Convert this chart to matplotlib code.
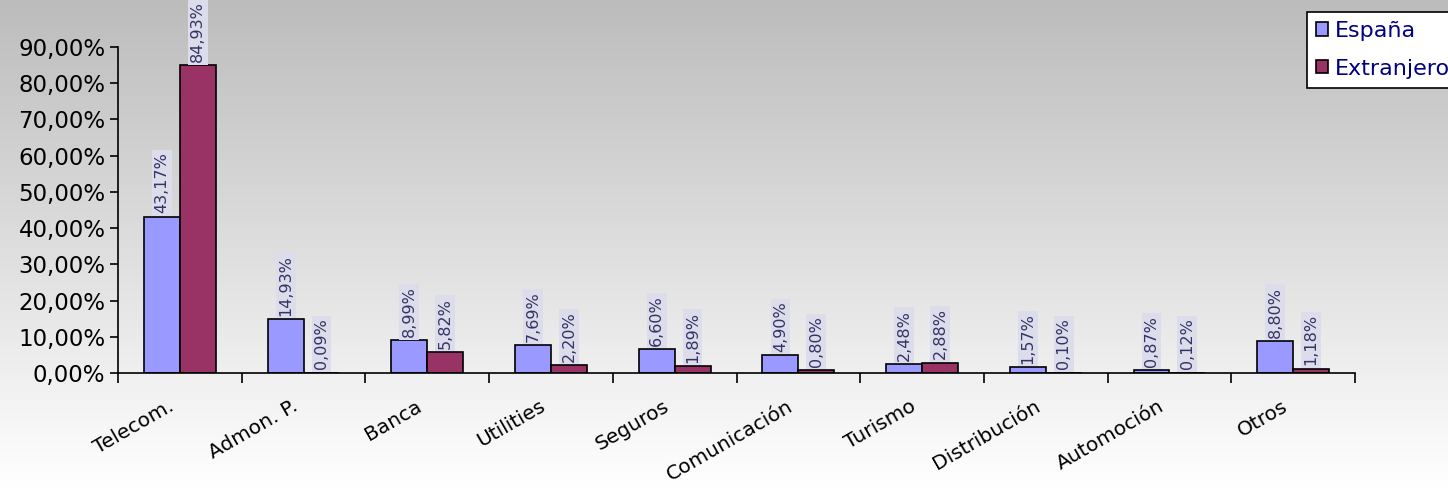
import numpy as np
import matplotlib
matplotlib.use('Agg')
import matplotlib.pyplot as plt
import matplotlib.transforms as mtransforms
from matplotlib.ticker import FixedLocator, FuncFormatter
from matplotlib.colors import LinearSegmentedColormap

categories = ['Telecom.', 'Admon. P.', 'Banca', 'Utilities', 'Seguros',
              'Comunicación', 'Turismo', 'Distribución', 'Automoción', 'Otros']
espana = [43.17, 14.93, 8.99, 7.69, 6.60, 4.90, 2.48, 1.57, 0.87, 8.80]
extranjero = [84.93, 0.09, 5.82, 2.20, 1.89, 0.80, 2.88, 0.10, 0.12, 1.18]
series_names = ['España', 'Extranjero']
yticks = [0, 10, 20, 30, 40, 50, 60, 70, 80, 90]

C_ES = '#9999FF'
C_EX = '#993366'
NAVY = '#000080'

fig = plt.figure(figsize=(14.48, 4.88), dpi=100)

# vertical gradient background
bg = fig.add_axes([0, 0, 1, 1], zorder=0)
grad = np.linspace(0, 1, 256).reshape(-1, 1)
cmap = LinearSegmentedColormap.from_list('g', ['#bcbcbc', '#ffffff'])
bg.imshow(grad, aspect='auto', cmap=cmap, extent=[0, 1, 0, 1], origin='upper')
bg.axis('off')

ax = fig.add_axes([118/1448, 1 - 373/488, (1355 - 118)/1448, (373 - 47)/488], zorder=1)
ax.patch.set_alpha(0)

x = np.arange(len(categories))
w = 0.29
b1 = ax.bar(x - w/2, espana, w, color=C_ES, edgecolor='black', linewidth=1.2,
            label=series_names[0])
b2 = ax.bar(x + w/2, extranjero, w, color=C_EX, edgecolor='black', linewidth=1.2,
            label=series_names[1])

def fmt(v):
    return f'{v:.2f}'.replace('.', ',') + '%'

for bars, vals in [(b1, espana), (b2, extranjero)]:
    for r, v in zip(bars, vals):
        ax.text(r.get_x() + r.get_width()/2, v + 0.9, fmt(v),
                rotation=90, ha='center', va='bottom', fontsize=11.5,
                color='#333366',
                bbox=dict(boxstyle='square,pad=0.15', fc='#dcdcea', ec='none'),
                zorder=5, clip_on=False)

ax.set_xlim(-0.5, len(categories) - 0.5)
ax.set_ylim(0, 90)
ax.set_yticks(yticks)
ax.yaxis.set_major_formatter(FuncFormatter(lambda v, p: f'{v:.2f}'.replace('.', ',') + '%'))
ax.tick_params(axis='y', direction='out', length=6, width=1.2, labelsize=16.5,
               colors='black', pad=3)

ax.set_xticks(x)
ax.set_xticklabels(categories, rotation=30, ha='right', rotation_mode='anchor',
                   fontsize=14.5)
ax.tick_params(axis='x', which='major', length=0, pad=17)
shift = mtransforms.ScaledTranslation(-12/100, 0, fig.dpi_scale_trans)
for lbl in ax.get_xticklabels():
    lbl.set_transform(lbl.get_transform() + shift)
ax.xaxis.set_minor_locator(FixedLocator(np.arange(-0.5, len(categories), 1.0)))
ax.tick_params(axis='x', which='minor', direction='out', length=7, width=1.2)

for s in ['top', 'right']:
    ax.spines[s].set_visible(False)
for s in ['left', 'bottom']:
    ax.spines[s].set_linewidth(1.2)

leg = fig.legend(handles=[b1, b2], labels=series_names,
                 loc='upper left', bbox_to_anchor=(1307/1448, 1 - 12/488),
                 frameon=True, fancybox=False, fontsize=16, handlelength=0.55,
                 handleheight=0.55, handletextpad=0.3, borderpad=0.4,
                 labelspacing=0.8, borderaxespad=0)
leg.get_frame().set_edgecolor('black')
leg.get_frame().set_facecolor('white')
leg.get_frame().set_alpha(1)
leg.get_frame().set_linewidth(1.2)
for t in leg.get_texts():
    t.set_color(NAVY)

fig.savefig('out.png', dpi=100)
